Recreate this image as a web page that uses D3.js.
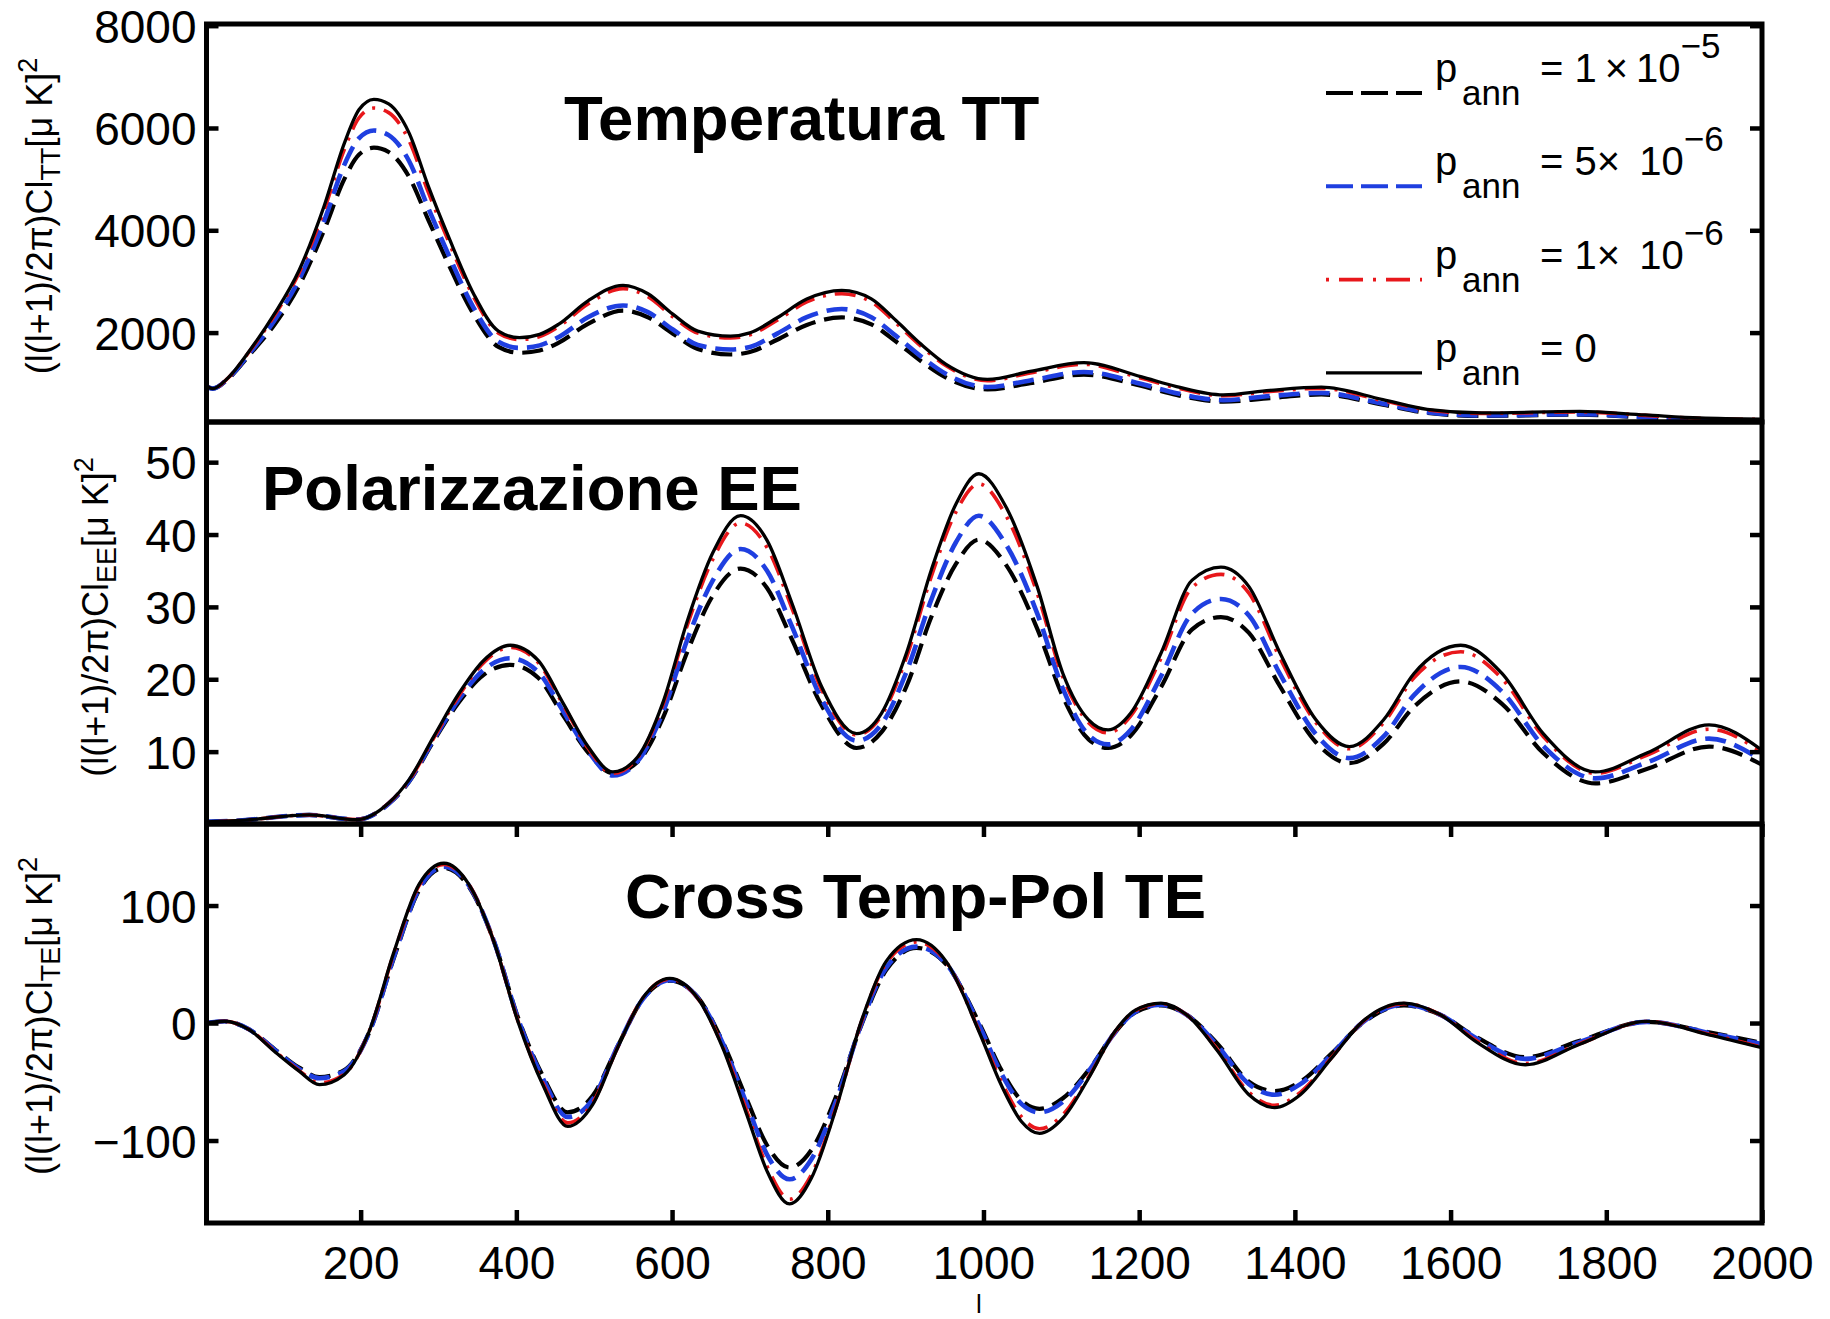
<html>
<head>
<meta charset="utf-8">
<title>Spettri CMB con annichilazione</title>
<script src="https://d3js.org/d3.v7.min.js"></script>
<style>
  body { margin: 0; background: #fff; }
  text { font-family: "Liberation Sans", Arial, Helvetica, sans-serif; fill: #000; }
</style>
</head>
<body>
<svg width=1830 height=1319></svg>
<script>
// multipole samples and spectra
var lTT = [2,10,30,57,89,121,153,179,198,217,236,262,287,313,345,377,404,430,454,492,537,569,601,633,675,700,735,773,818,856,888,920,952,1005,1060,1129,1202,1248,1308,1368,1434,1513,1570,1640,1766,1850,1920,2000];
var ttP1e5 = [950,905,1100,1560,2150,2920,4000,5000,5480,5615,5530,5050,4200,3330,2360,1720,1605,1650,1800,2170,2430,2300,1980,1680,1572,1620,1860,2150,2296,2160,1820,1440,1120,890,1010,1180,960,780,650,720,790,590,430,370,395,340,290,265];
var ttP5e6 = [950,905,1105,1590,2230,3040,4180,5280,5800,5950,5860,5360,4430,3520,2490,1820,1700,1750,1910,2300,2530,2400,2060,1760,1670,1720,1980,2300,2460,2300,1930,1530,1190,935,1065,1230,1000,815,680,760,820,610,445,380,405,345,295,270];
var ttP1e6 = [950,905,1118,1630,2330,3170,4390,5580,6200,6390,6300,5760,4740,3780,2700,1990,1865,1925,2115,2560,2860,2700,2310,1990,1895,1955,2240,2600,2760,2600,2180,1730,1350,1060,1210,1380,1110,920,765,850,910,670,490,420,448,382,322,302];
var ttP0 = [950,905,1120,1640,2360,3220,4470,5700,6360,6560,6470,5910,4860,3870,2760,2030,1900,1965,2160,2620,2925,2760,2360,2030,1930,1995,2290,2655,2825,2660,2230,1770,1380,1085,1240,1413,1140,945,781,870,932,690,500,430,458,390,332,308];

var lEE = [2,40,134,195,236,262,294,326,358,392,428,460,492,524,556,588,620,652,688,722,754,792,837,869,901,933,965,994,1029,1069,1102,1135,1160,1189,1228,1268,1305,1341,1381,1427,1470,1514,1553,1613,1666,1719,1786,1852,1932,2000];
var eeP1e5 = [0.3,0.45,1.25,0.6,2.8,5.8,11.5,16.8,20.6,22.0,20.2,15.0,9.9,7.0,8.6,14.6,23.9,31.5,35.3,32.6,25.5,16.4,10.5,12.7,19.0,28.6,36.0,39.3,35.8,27.0,17.6,11.7,10.5,12.2,18.9,26.9,28.6,26.4,19.0,11.3,8.4,11.1,16.2,19.7,16.6,9.8,5.6,7.6,10.7,8.2];
var eeP5e6 = [0.3,0.45,1.25,0.6,2.8,5.9,11.7,17.2,21.3,22.9,21.0,15.6,10.1,6.7,8.7,15.4,25.6,33.6,38.0,35.0,27.3,17.3,11.5,13.8,21.0,31.0,39.0,42.6,38.6,29.1,18.7,12.3,11.0,13.0,20.4,29.1,31.1,28.8,20.7,12.4,9.1,12.1,17.8,21.7,18.3,10.8,6.3,8.5,11.8,8.8];
var eeP1e6 = [0.3,0.45,1.25,0.6,2.9,6.0,11.9,17.7,22.3,24.4,22.3,16.5,10.5,7.0,9.2,16.4,27.6,36.5,41.6,38.2,29.8,18.6,12.3,15.0,23.0,34.2,43.2,47.0,42.6,31.9,20.3,14.0,12.6,14.9,22.9,32.7,34.5,31.9,22.9,14.0,10.4,14.0,20.2,23.8,20.1,12.1,7.0,9.5,13.1,9.9];
var eeP0 = [0.3,0.45,1.25,0.6,2.9,6.1,12.1,18.0,22.6,24.7,22.6,16.7,10.7,7.2,9.3,16.7,28.2,37.4,42.6,39.2,30.5,19.0,12.5,15.3,23.6,35.1,44.3,48.4,43.8,32.8,20.8,14.4,13.0,15.3,23.6,33.7,35.5,32.8,23.6,14.4,10.7,14.4,20.8,24.7,20.8,12.5,7.2,9.8,13.7,10.2];

var lTE = [2,25,57,89,121,147,179,211,243,275,307,339,371,402,434,466,498,530,562,597,633,665,696,722,751,779,811,843,875,914,952,996,1023,1049,1072,1102,1135,1169,1195,1228,1261,1301,1341,1374,1407,1447,1487,1540,1587,1633,1696,1766,1852,1932,2000];
var teP1e5 = [0,1.5,-5.5,-22,-38,-46,-40,-8,56,113,132,116,70,5,-45,-76,-62,-20,20,36,22,-16,-65,-104,-123,-108,-62,-2,45,64,50,-2,-40,-66,-73,-64,-40,-8,9,15,7,-18,-50,-58,-50,-26,0,15,7,-12,-29,-15,1,-8,-17];
var teP5e6 = [0,1.5,-5.5,-22.5,-39,-47,-41,-8,57,114,133,117,70,4,-47,-80,-65,-20,20,36.5,21.5,-17,-69,-112,-133,-116,-66,-1,47,65,50.5,-4,-43,-69,-76,-67,-41,-8,9.5,15.5,7,-19.5,-52,-61,-52,-27,0.5,15.5,7,-13,-30.5,-16,1,-8.5,-18];
var teP1e6 = [0,1.5,-5.7,-23.5,-40.5,-51,-43.5,-7,60,117,135,118,69.5,2,-51,-85,-68,-21,21,37.5,21,-20,-75,-122,-150,-129,-71,0.5,51,69,52,-9,-50,-80,-90,-78,-46,-7.5,10.5,16.5,7,-23,-59,-70,-59,-29.5,1,16.5,7,-15,-34.5,-17.5,1.3,-9.5,-20.5];
var teP0 = [0,1.5,-5.7,-24,-41,-52.5,-44,-7,61,118,136,118,69.5,1.4,-52.5,-88,-69.5,-21,21,38,21,-21,-78,-126,-154,-132,-72,1.4,52.5,71,52.5,-10,-53,-84,-94,-81,-47,-7,11,17,7,-24,-61,-72,-61,-30,1.4,17,7,-16,-35.5,-18,1.4,-10,-21];

var xTicks = [200,400,600,800,1000,1200,1400,1600,1800,2000];
var ttTicks = [2000,4000,6000,8000];
var eeTicks = [10,20,30,40,50];
var teTicks = [-100,0,100];
var titles = ["Temperatura TT", "Polarizzazione EE", "Cross Temp-Pol TE"];
var subs = ["TT", "EE", "TE"];
var legendCoef = ["1\u2009\u00d7\u200910", "5\u00d7\u2009 10", "1\u00d7\u2009 10", "0"];
var legendExp = ["\u22125", "\u22126", "\u22126", ""];

var styles = [
  {color: "#000000", dash: "21,9", legDash: "27,8", width: 4.2},
  {color: "#1f3fe0", dash: "21,9", legDash: "27,8", width: 4.6},
  {color: "#e8171b", dash: "3,9,21,9", legDash: "3,10,24,10", width: 3.6},
  {color: "#000000", dash: null, legDash: null, width: 3.3}
];

var left = 206.5, right = 1762;
var panels = [
  {top: 24, bottom: 422, domain: [252, 8033], ticks: ttTicks, l: lTT, series: [ttP1e5, ttP5e6, ttP1e6, ttP0], tx: 564, ty: 140, labX: 52, labY: 216},
  {top: 422, bottom: 824, domain: [0, 55.55], ticks: eeTicks, l: lEE, series: [eeP1e5, eeP5e6, eeP1e6, eeP0], tx: 262, ty: 510, labX: 108, labY: 617},
  {top: 824, bottom: 1223, domain: [-170.2, 169.4], ticks: teTicks, l: lTE, series: [teP1e5, teP5e6, teP1e6, teP0], tx: 625, ty: 918, labX: 52, labY: 1016}
];

var svg = d3.select("svg");
var xs = d3.scaleLinear().domain([2, 2000]).range([left, right]);

panels.forEach(function(p, i) {
  var ys = d3.scaleLinear().domain(p.domain).range([p.bottom, p.top]);

  svg.append("clipPath").attr("id", "clip" + i)
    .append("rect")
    .attr("x", left).attr("y", p.top)
    .attr("width", right - left).attr("height", p.bottom - p.top);

  var line = d3.line()
    .x(function(d) { return xs(d[0]); })
    .y(function(d) { return ys(d[1]); })
    .curve(d3.curveMonotoneX);

  var g = svg.append("g").attr("clip-path", "url(#clip" + i + ")");
  p.series.forEach(function(vals, k) {
    var pts = p.l.map(function(l, j) { return [l, vals[j]]; });
    g.append("path")
      .datum(pts)
      .attr("d", line)
      .attr("fill", "none")
      .attr("stroke", styles[k].color)
      .attr("stroke-width", styles[k].width)
      .attr("stroke-dasharray", styles[k].dash);
  });

  // y axis left with labels, right with ticks only
  var ax = svg.append("g")
    .attr("transform", "translate(" + left + ",0)")
    .call(d3.axisLeft(ys).tickValues(p.ticks).tickSize(-12).tickPadding(10).tickFormat(d3.format("d")));
  ax.select(".domain").remove();
  ax.selectAll("line").attr("stroke-width", 4.5);
  ax.selectAll("text").attr("font-size", 46).attr("dy", "0.36em");
  ax.attr("font-family", null);

  var axr = svg.append("g")
    .attr("transform", "translate(" + right + ",0)")
    .call(d3.axisRight(ys).tickValues(p.ticks).tickSize(-12).tickFormat(""));
  axr.select(".domain").remove();
  axr.selectAll("line").attr("stroke-width", 4.5);

  // panel title
  svg.append("text")
    .attr("x", p.tx).attr("y", p.ty)
    .attr("font-size", 63.5).attr("font-weight", "bold")
    .text(titles[i]);

  // y label
  var lab = svg.append("text")
    .attr("transform", "translate(" + p.labX + "," + p.labY + ") rotate(-90)")
    .attr("text-anchor", "middle")
    .attr("font-size", 36);
  lab.append("tspan").text("(l(l+1)/2\u03c0)Cl");
  lab.append("tspan").attr("font-size", 27).attr("dy", 8).text(subs[i]);
  lab.append("tspan").attr("dy", -8).text("[\u03bc K]");
  lab.append("tspan").attr("font-size", 27).attr("dy", -15).text("2");

  // frame
  svg.append("rect")
    .attr("x", left).attr("y", p.top)
    .attr("width", right - left).attr("height", p.bottom - p.top)
    .attr("fill", "none").attr("stroke", "#000").attr("stroke-width", 5);
});

// x axis on the bottom panel only
var pb = panels[2];
var axb = svg.append("g")
  .attr("transform", "translate(0," + pb.bottom + ")")
  .call(d3.axisBottom(xs).tickValues(xTicks).tickSize(-13).tickPadding(23.5).tickFormat(d3.format("d")));
axb.select(".domain").remove();
axb.selectAll("line").attr("stroke-width", 4.5);
axb.selectAll("text").attr("font-size", 46);
axb.attr("font-family", null);

var axt = svg.append("g")
  .attr("transform", "translate(0," + pb.top + ")")
  .call(d3.axisTop(xs).tickValues(xTicks).tickSize(-13).tickFormat(""));
axt.select(".domain").remove();
axt.selectAll("line").attr("stroke-width", 4.5);

// x label, kept just below the tick labels
svg.append("text")
  .attr("x", 979).attr("y", 1313)
  .attr("text-anchor", "middle").attr("font-size", 26)
  .text("l");

// legend
styles.forEach(function(s, i) {
  var base = 82 + i * 93.3;
  svg.append("line")
    .attr("x1", 1326).attr("x2", 1422)
    .attr("y1", base + 11).attr("y2", base + 11)
    .attr("stroke", s.color).attr("stroke-width", Math.min(s.width, 4))
    .attr("stroke-dasharray", s.legDash);
  svg.append("text").attr("x", 1435).attr("y", base).attr("font-size", 40).text("p");
  svg.append("text").attr("x", 1462).attr("y", base + 23).attr("font-size", 35).text("ann");
  var t = svg.append("text").attr("x", 1540).attr("y", base).attr("font-size", 40);
  t.append("tspan").text("= " + legendCoef[i]);
  if (legendExp[i]) {
    t.append("tspan").attr("font-size", 35).attr("dy", -24).text(legendExp[i]);
  }
});
</script>
</body>
</html>
